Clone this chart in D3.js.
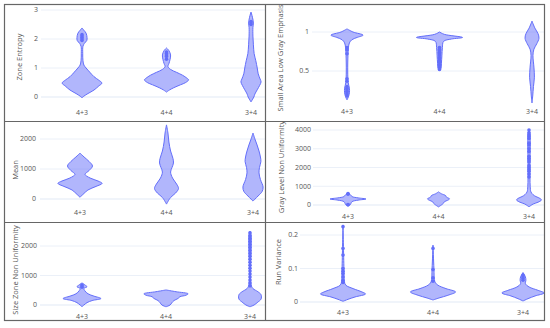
<!DOCTYPE html>
<html>
<head>
<meta charset="utf-8">
<script src="https://cdn.jsdelivr.net/npm/d3@7"></script>
<style>
  body { margin: 0; background: #fff; }
  svg { display: block; font-family: "Open Sans", "DejaVu Sans", sans-serif; }
  .tick-label { fill: #555; font-size: 7px; }
  .axis-title { fill: #555; font-size: 7.5px; }
</style>
</head>
<body>
<svg id="chart" width="550" height="328"></svg>
<script>
const categories = ['4+3', '4+4', '3+4'];

// violin outlines: [value, density] (density 1 = widest)
const zoneEntropyShapes = [
  [[2.38,0],[2.3,0.08],[2.2,0.17],[2.05,0.21],[1.95,0.2],[1.85,0.1],[1.75,0.04],[1.5,0.03],[1.25,0.04],[1.1,0.08],[1.0,0.17],[0.85,0.33],[0.7,0.5],[0.58,0.7],[0.48,0.83],[0.38,0.7],[0.24,0.5],[0.12,0.25],[0.03,0.08],[-0.03,0]],
  [[1.69,0],[1.6,0.1],[1.45,0.17],[1.3,0.15],[1.15,0.1],[1.05,0.06],[0.95,0.17],[0.85,0.42],[0.75,0.67],[0.65,0.85],[0.59,0.92],[0.5,0.8],[0.42,0.58],[0.32,0.3],[0.24,0.12],[0.17,0]],
  [[2.93,0],[2.75,0.06],[2.55,0.1],[2.4,0.08],[2.1,0.08],[1.8,0.1],[1.5,0.13],[1.25,0.2],[1.0,0.26],[0.8,0.3],[0.62,0.38],[0.52,0.42],[0.4,0.36],[0.25,0.26],[0.1,0.16],[0,0.12],[-0.1,0.05],[-0.17,0]]
];
const zoneEntropyPoints = [[1.95,2.0,2.05,2.1,2.15],[1.3,1.4,1.45,1.5,1.55],[2.5,2.55,2.6]];

const smallAreaShapes = [
  [[1.04,0],[1.0,0.25],[0.96,0.67],[0.93,0.42],[0.9,0.2],[0.86,0.1],[0.8,0.06],[0.7,0.04],[0.5,0.03],[0.35,0.05],[0.28,0.1],[0.22,0.1],[0.17,0.06],[0.13,0]],
  [[1.0,0],[0.97,0.2],[0.93,0.96],[0.91,0.5],[0.88,0.17],[0.8,0.12],[0.7,0.1],[0.6,0.08],[0.53,0.06],[0.5,0]],
  [[1.14,0],[1.05,0.12],[0.98,0.25],[0.92,0.29],[0.85,0.2],[0.78,0.08],[0.7,0.04],[0.55,0.08],[0.42,0.1],[0.3,0.06],[0.18,0.03],[0.09,0]]
];
const smallAreaPoints = [[0.8,0.77,0.72,0.4,0.37,0.3,0.28,0.26,0.24,0.22,0.2,0.18],[0.8,0.78,0.76,0.74,0.72,0.7,0.67,0.64,0.61,0.58,0.55,0.52],[]];

const meanShapes = [
  [[1530,0],[1400,0.17],[1250,0.38],[1100,0.52],[950,0.38],[820,0.21],[700,0.42],[600,0.75],[520,0.92],[420,0.67],[300,0.33],[150,0.12],[60,0]],
  [[2470,0],[2200,0.06],[1900,0.1],[1600,0.17],[1350,0.27],[1200,0.29],[1050,0.23],[900,0.17],[700,0.25],[500,0.42],[350,0.5],[200,0.38],[50,0.17],[-170,0]],
  [[2200,0],[2000,0.08],[1800,0.17],[1600,0.25],[1400,0.31],[1250,0.33],[1050,0.27],[870,0.25],[650,0.31],[400,0.42],[250,0.38],[100,0.21],[-70,0]]
];
const meanPoints = [[], [], []];

const grayLevelShapes = [
  [[640,0],[550,0.1],[450,0.17],[380,0.42],[320,0.75],[260,0.42],[180,0.17],[80,0.12],[0,0.08],[-60,0]],
  [[700,0],[600,0.12],[500,0.3],[420,0.33],[330,0.46],[250,0.38],[180,0.25],[100,0.21],[0,0.12],[-100,0]],
  [[4050,0],[3800,0.04],[2000,0.04],[1000,0.05],[700,0.08],[550,0.17],[450,0.29],[350,0.46],[270,0.52],[150,0.38],[50,0.17],[-100,0]]
];
const grayLevelPoints = [[570,610,10,30],[],[1500,1650,1800,1900,2000,2100,2300,2400,2500,2600,2850,3000,3200,3300,3550,3650,3750,3850,4000]];

const sizeZoneShapes = [
  [[750,0],[680,0.12],[620,0.21],[560,0.08],[480,0.12],[380,0.25],[300,0.5],[220,0.79],[150,0.42],[80,0.21],[0,0.08],[-60,0]],
  [[510,0],[450,0.42],[380,0.92],[330,0.83],[280,0.58],[220,0.5],[150,0.33],[80,0.25],[0,0.17],[-60,0]],
  [[2500,0],[2400,0.04],[700,0.04],[560,0.12],[450,0.33],[350,0.46],[200,0.46],[100,0.33],[0,0.17],[-60,0]]
];
const sizeZonePoints = [[600,640,680],[],[650,750,850,950,1050,1150,1250,1350,1450,1550,1650,1750,1850,1950,2050,2150,2250,2350,2450]];

const runVarianceShapes = [
  [[0.23,0],[0.1,0.04],[0.06,0.06],[0.05,0.12],[0.04,0.42],[0.03,0.79],[0.024,0.94],[0.015,0.5],[0.008,0.21],[0.002,0]],
  [[0.17,0],[0.1,0.04],[0.06,0.08],[0.05,0.21],[0.04,0.54],[0.03,0.94],[0.02,0.62],[0.012,0.25],[0.006,0]],
  [[0.088,0],[0.075,0.1],[0.065,0.12],[0.055,0.1],[0.045,0.25],[0.035,0.62],[0.027,0.88],[0.018,0.5],[0.01,0.21],[0.003,0]]
];
const runVariancePoints = [[0.225,0.16,0.14,0.1,0.092,0.085,0.075,0.065,0.058],[0.16,0.097,0.072,0.062],[0.07,0.075,0.08,0.065]];

const zoneEntropyTicks = [0, 1, 2, 3];
const smallAreaTicks = [0.5, 1];
const meanTicks = [0, 1000, 2000];
const grayLevelTicks = [0, 1000, 2000, 3000, 4000];
const sizeZoneTicks = [0, 1000, 2000];
const runVarianceTicks = [0, 0.1, 0.2];

const COLOR = '#636efa';
const MAX_HALF_WIDTH = 24;

const panels = [
  { title: 'Zone Entropy', shapes: zoneEntropyShapes, points: zoneEntropyPoints, ticks: zoneEntropyTicks,
    box: [4, 4, 265, 121], centers: [82, 251], gridLeft: 41, yDomain: [0, 3], yRange: [97, 10],
    tickX: 38, labelY: 115, titleX: 19, titleY: 57 },
  { title: 'Small Area Low Gray Emphasis', shapes: smallAreaShapes, points: smallAreaPoints, ticks: smallAreaTicks,
    box: [265, 4, 545, 121], centers: [347, 532], gridLeft: 312, yDomain: [0, 1], yRange: [110, 32],
    tickX: 309, labelY: 114, titleX: 280, titleY: 58 },
  { title: 'Mean', shapes: meanShapes, points: meanPoints, ticks: meanTicks,
    box: [4, 121, 265, 222], centers: [80, 253], gridLeft: 40, yDomain: [0, 2000], yRange: [199, 139],
    tickX: 36, labelY: 215, titleX: 15, titleY: 170 },
  { title: 'Gray Level Non Uniformity', shapes: grayLevelShapes, points: grayLevelPoints, ticks: grayLevelTicks,
    box: [265, 121, 545, 222], centers: [348, 529], gridLeft: 313, yDomain: [0, 4000], yRange: [205, 130],
    tickX: 311, labelY: 219, titleX: 281, titleY: 167 },
  { title: 'Size Zone Non Uniformity', shapes: sizeZoneShapes, points: sizeZonePoints, ticks: sizeZoneTicks,
    box: [4, 222, 265, 321], centers: [82, 250], gridLeft: 40, yDomain: [0, 2000], yRange: [305, 246],
    tickX: 37, labelY: 319, titleX: 15, titleY: 270 },
  { title: 'Run Variance', shapes: runVarianceShapes, points: runVariancePoints, ticks: runVarianceTicks,
    box: [265, 222, 545, 321], centers: [343, 523], gridLeft: 300, yDomain: [0, 0.2], yRange: [302, 235],
    tickX: 298, labelY: 315, titleX: 278, titleY: 262 }
];

const svg = d3.select('#chart');
const widthScale = d3.scaleLinear().domain([0, 1]).range([0, MAX_HALF_WIDTH]);
const tickFormat = d3.format('~g');

panels.forEach((p, i) => {
  const [x0, y0, x1, y1] = p.box;
  const clipId = `clip-${i}`;
  svg.append('clipPath').attr('id', clipId)
    .append('rect').attr('x', x0).attr('y', y0).attr('width', x1 - x0).attr('height', y1 - y0);

  const g = svg.append('g').attr('clip-path', `url(#${clipId})`);
  const x = d3.scalePoint().domain(categories).range(p.centers);
  const y = d3.scaleLinear().domain(p.yDomain).range(p.yRange);

  // gridlines
  g.selectAll('line.grid')
    .data(p.ticks)
    .join('line')
    .attr('class', 'grid')
    .attr('x1', p.gridLeft).attr('x2', x1)
    .attr('y1', (d) => y(d)).attr('y2', (d) => y(d))
    .attr('stroke', '#ebf0f8')
    .attr('stroke-width', (d) => (d === 0 ? 1.5 : 1));

  // tick labels
  g.selectAll('text.tick-label')
    .data(p.ticks)
    .join('text')
    .attr('class', 'tick-label')
    .attr('x', p.tickX)
    .attr('y', (d) => y(d))
    .attr('dy', '0.35em')
    .attr('text-anchor', 'end')
    .text(tickFormat);

  g.selectAll('text.cat-label')
    .data(categories)
    .join('text')
    .attr('class', 'tick-label cat-label')
    .attr('x', (d) => x(d))
    .attr('y', p.labelY)
    .attr('text-anchor', 'middle')
    .text((d) => d);

  g.append('text')
    .attr('class', 'axis-title')
    .attr('transform', `translate(${p.titleX},${p.titleY}) rotate(-90)`)
    .attr('text-anchor', 'middle')
    .attr('dy', '0.35em')
    .text(p.title);

  const area = d3.area()
    .y((d) => y(d[0]))
    .curve(d3.curveCatmullRom);

  categories.forEach((cat, ci) => {
    const cx = x(cat);
    area.x0((d) => cx - widthScale(d[1])).x1((d) => cx + widthScale(d[1]));
    g.append('path')
      .datum(p.shapes[ci])
      .attr('d', area)
      .attr('fill', 'rgba(99,110,250,0.5)')
      .attr('stroke', COLOR)
      .attr('stroke-width', 1)
      .attr('stroke-linejoin', 'round');

    g.selectAll(`circle.pt-${ci}`)
      .data(p.points[ci])
      .join('circle')
      .attr('class', `pt-${ci}`)
      .attr('cx', cx)
      .attr('cy', (d) => y(d))
      .attr('r', 1.8)
      .attr('fill', COLOR);
  });
});

// panel borders
const borderColor = '#666';
svg.append('rect').attr('x', 4.5).attr('y', 4.5).attr('width', 540).attr('height', 316)
  .attr('fill', 'none').attr('stroke', borderColor).attr('stroke-width', 1.2);
svg.append('line').attr('x1', 265.5).attr('x2', 265.5).attr('y1', 4).attr('y2', 321)
  .attr('stroke', borderColor).attr('stroke-width', 1.2);
[121.5, 222.5].forEach((yy) => {
  svg.append('line').attr('x1', 4).attr('x2', 545).attr('y1', yy).attr('y2', yy)
    .attr('stroke', borderColor).attr('stroke-width', 1.2);
});
</script>
</body>
</html>
